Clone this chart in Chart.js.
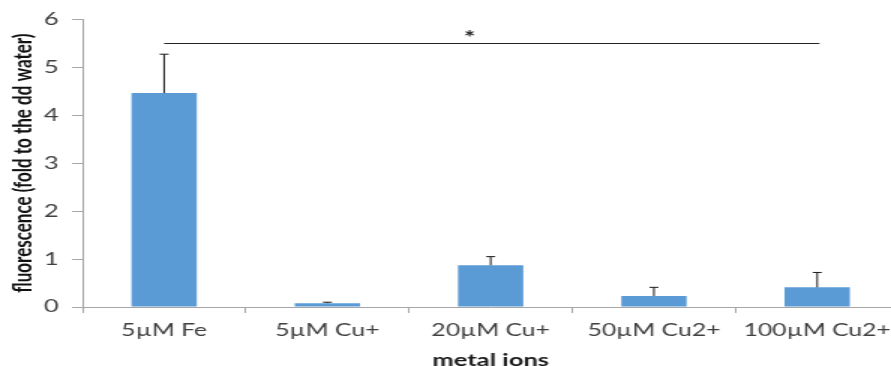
<!DOCTYPE html>
<html>
<head>
<meta charset="utf-8">
<script src="https://cdn.jsdelivr.net/npm/chart.js@4.4.0/dist/chart.umd.min.js"></script>
<style>
    html, body { margin: 0; padding: 0; background: #fff; }
    #marco { width: 891px; height: 366px; overflow: hidden; }
    /* la figura original esta estirada en horizontal */
    #estirado { width: 602px; height: 366px; transform: scaleX(1.5); transform-origin: 0 0; }
    canvas { display: block; }
</style>
</head>
<body>
<div id="marco"><div id="estirado"><canvas id="grafica" width="602" height="366"></canvas></div></div>
<script>
const categorias = ['5µM Fe', '5µM Cu+', '20µM Cu+', '50µM Cu2+', '100µM Cu2+'];
const fluorescencia = [4.46, 0.08, 0.87, 0.23, 0.41];
const errores = [0.81, 0.02, 0.18, 0.18, 0.31];
const ticksY = [0, 1, 2, 3, 4, 5, 6];
const significancia = { desde: 0, hasta: 4, nivel: 5.5, marca: '*' };

const barrasError = {
    id: 'barrasError',
    afterDatasetsDraw(chart) {
        const { ctx, scales: { x, y } } = chart;
        const meta = chart.getDatasetMeta(0);
        ctx.save();
        ctx.strokeStyle = '#1a1a1a';
        ctx.lineWidth = 1;
        meta.data.forEach((barra, i) => {
            const yTop = y.getPixelForValue(fluorescencia[i] + errores[i]);
            ctx.beginPath();
            ctx.moveTo(barra.x, barra.y);
            ctx.lineTo(barra.x, yTop);
            ctx.moveTo(barra.x - 3, yTop);
            ctx.lineTo(barra.x + 3, yTop);
            ctx.stroke();
        });

        // linea de significancia con asterisco
        const yLinea = Math.round(y.getPixelForValue(significancia.nivel)) + 0.5;
        ctx.strokeStyle = '#222';
        ctx.beginPath();
        ctx.moveTo(x.getPixelForValue(significancia.desde), yLinea);
        ctx.lineTo(x.getPixelForValue(significancia.hasta) + 1.5, yLinea);
        ctx.stroke();
        ctx.fillStyle = '#222';
        ctx.font = 'bold 18px Lato';
        ctx.textAlign = 'center';
        ctx.textBaseline = 'alphabetic';
        ctx.fillText(significancia.marca, x.getPixelForValue(1.87), yLinea);
        ctx.restore();
    }
};

const grafica = new Chart(document.getElementById('grafica').getContext('2d'), {
    type: 'bar',
    data: {
        labels: categorias,
        datasets: [{
            data: fluorescencia,
            backgroundColor: '#5b9bd5',
            borderWidth: 0,
            barPercentage: 0.4,
            categoryPercentage: 1.0
        }]
    },
    options: {
        responsive: false,
        animation: false,
        layout: { padding: { top: 19, right: 1, left: 0, bottom: 0 } },
        plugins: {
            legend: { display: false },
            tooltip: { enabled: false }
        },
        scales: {
            x: {
                z: 1,
                grid: { drawOnChartArea: false, tickLength: 6, color: '#a6a6a6', offset: true },
                border: { color: '#a6a6a6' },
                ticks: { color: '#404040', font: { family: 'Lato', size: 16.5 }, padding: 8, maxRotation: 0 },
                title: {
                    display: true,
                    text: 'metal ions',
                    color: '#1a1a1a',
                    font: { family: 'Lato', size: 17, weight: 'bold' },
                    padding: { top: 0, bottom: -5 }
                },
                afterFit: s => { s.height = 59; }
            },
            y: {
                min: 0,
                max: 6,
                afterBuildTicks: s => { s.ticks = ticksY.map(v => ({ value: v })); },
                grid: { drawOnChartArea: false, tickLength: 7, color: '#a6a6a6' },
                border: { color: '#a6a6a6' },
                ticks: { color: '#404040', font: { family: 'Lato', size: 17 }, padding: 9 },
                title: {
                    display: true,
                    text: 'fluorescence (fold to the dd water)',
                    color: '#111',
                    font: { family: 'Lato', size: 17, weight: 'bold' },
                    padding: { top: 5, bottom: 0 }
                },
                afterFit: s => { s.width = 55; }
            }
        }
    },
    plugins: [barrasError]
});
</script>
</body>
</html>
